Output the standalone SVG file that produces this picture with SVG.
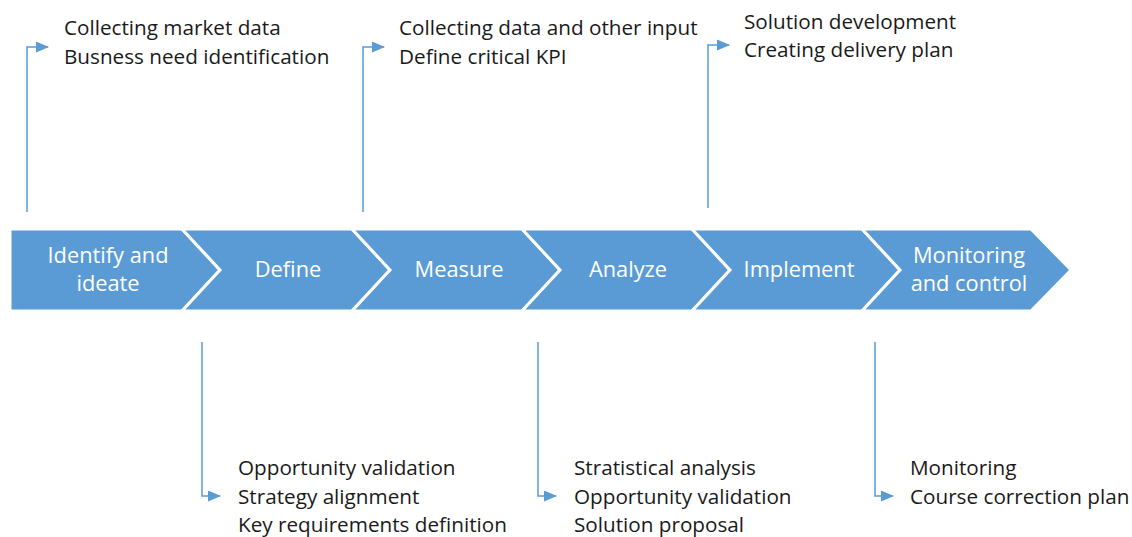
<svg xmlns="http://www.w3.org/2000/svg" width="1132" height="537" viewBox="0 0 1132 537">
<style>
.chev{fill:#5B9BD5;stroke:#fff;stroke-width:3;stroke-linejoin:miter}
.lbl{font-family:"Open Sans","Liberation Sans",sans-serif;font-size:21.8px;fill:#fff;text-anchor:middle}
.txt{font-family:"Open Sans","Liberation Sans",sans-serif;font-size:20.7px;fill:#1a1a1a}
.con{fill:none;stroke:#5B9BD5;stroke-width:1.5}
</style>
<defs>
<marker id="ah" markerWidth="13" markerHeight="11" refX="12" refY="5.5" orient="auto" markerUnits="userSpaceOnUse">
<path d="M0,0 L13,5.5 L0,11 Z" fill="#5B9BD5"/>
</marker>
</defs>
<rect width="1132" height="537" fill="#fff"/>
<g id="n1"><path class="chev" d="M10,229 H182 L220,270 L182,311 H10 Z"/><text class="lbl"><tspan x="108" y="263">Identify and</tspan><tspan x="108" y="291">ideate</tspan></text></g>
<g id="n2"><path class="chev" d="M182,229 H352 L390,270 L352,311 H182 L220,270 Z"/><text class="lbl" x="288" y="277">Define</text></g>
<g id="n3"><path class="chev" d="M352,229 H522 L560,270 L522,311 H352 L390,270 Z"/><text class="lbl" x="459" y="277">Measure</text></g>
<g id="n4"><path class="chev" d="M522,229 H692 L730,270 L692,311 H522 L560,270 Z"/><text class="lbl" x="628" y="277">Analyze</text></g>
<g id="n5"><path class="chev" d="M692,229 H862 L900,270 L862,311 H692 L730,270 Z"/><text class="lbl" x="799" y="277">Implement</text></g>
<g id="n6"><path class="chev" d="M862,229 H1031 L1071,270 L1031,311 H862 L900,270 Z"/><text class="lbl"><tspan x="969" y="263">Monitoring</tspan><tspan x="969" y="291">and control</tspan></text></g>
<g id="connectors">
<path class="con" d="M27,212 V47 H48" marker-end="url(#ah)"/>
<path class="con" d="M363,212 V47 H384" marker-end="url(#ah)"/>
<path class="con" d="M708,208 V45 H729" marker-end="url(#ah)"/>
<path class="con" d="M202,342 V496 H220" marker-end="url(#ah)"/>
<path class="con" d="M538,342 V496 H556" marker-end="url(#ah)"/>
<path class="con" d="M875,342 V496 H893" marker-end="url(#ah)"/>
</g>
<g id="t1"><text class="txt"><tspan x="64" y="35">Collecting market data</tspan><tspan x="64" y="64">Busness need identification</tspan></text></g>
<g id="t2"><text class="txt"><tspan x="399" y="35">Collecting data and other input</tspan><tspan x="399" y="64">Define critical KPI</tspan></text></g>
<g id="t3"><text class="txt"><tspan x="744" y="29">Solution development</tspan><tspan x="744" y="57">Creating delivery plan</tspan></text></g>
<g id="t4"><text class="txt"><tspan x="238" y="475">Opportunity validation</tspan><tspan x="238" y="504">Strategy alignment</tspan><tspan x="238" y="532">Key requirements definition</tspan></text></g>
<g id="t5"><text class="txt"><tspan x="574" y="475">Stratistical analysis</tspan><tspan x="574" y="504">Opportunity validation</tspan><tspan x="574" y="532">Solution proposal</tspan></text></g>
<g id="t6"><text class="txt"><tspan x="910" y="475">Monitoring</tspan><tspan x="910" y="504">Course correction plan</tspan></text></g>
</svg>
